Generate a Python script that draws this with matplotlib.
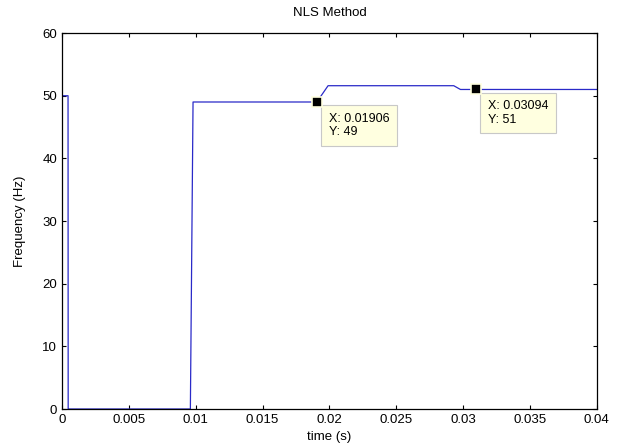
import matplotlib
matplotlib.use('Agg')
import matplotlib.pyplot as plt

# frequency estimate (Hz) vs time (s)
t = [0, 0.00045, 0.00046, 0.0096, 0.0098, 0.01906, 0.0199, 0.0293, 0.0298, 0.03094, 0.04]
freq = [50, 50, 0, 0, 49, 49, 51.6, 51.6, 51, 51, 51]

tips_x = [0.01906, 0.03094]
tips_y = [49, 51]
tips_text = ['X: 0.01906\nY: 49', 'X: 0.03094\nY: 51']

plt.rcParams['font.family'] = ['Liberation Sans', 'DejaVu Sans']

fig = plt.figure(figsize=(6.24, 4.47), dpi=100)
ax = fig.add_axes([0.0994, 0.085, 0.857, 0.841])

ax.plot(t, freq, color='#2a2ac8', lw=0.9)

for x, y, txt in zip(tips_x, tips_y, tips_text):
    ax.plot([x], [y], marker='s', ms=7, color='black', mec='#ffffe0', mew=1.2, zorder=5)
    ax.annotate(txt, xy=(x, y), xytext=(12, -11), textcoords='offset pixels',
                ha='left', va='top', fontsize=9, linespacing=1.15,
                bbox=dict(boxstyle='square,pad=0.6', fc='#ffffe0', ec='#c8c8c8', lw=0.8))

ax.set_xlim(0, 0.04)
ax.set_ylim(0, 60)
ax.set_xticks([0, 0.005, 0.01, 0.015, 0.02, 0.025, 0.03, 0.035, 0.04])
ax.set_xticklabels(['0', '0.005', '0.01', '0.015', '0.02', '0.025', '0.03', '0.035', '0.04'])
ax.set_yticks([0, 10, 20, 30, 40, 50, 60])
ax.tick_params(direction='in', top=True, right=True, length=3, labelsize=9.5)
for s in ax.spines.values():
    s.set_linewidth(0.9)

ax.set_title('NLS Method', fontsize=9.5, pad=12)
ax.set_xlabel('time (s)', fontsize=9.5, labelpad=4)
ax.set_ylabel('Frequency (Hz)', fontsize=9.5, labelpad=12)

fig.savefig('out.png', dpi=100)
